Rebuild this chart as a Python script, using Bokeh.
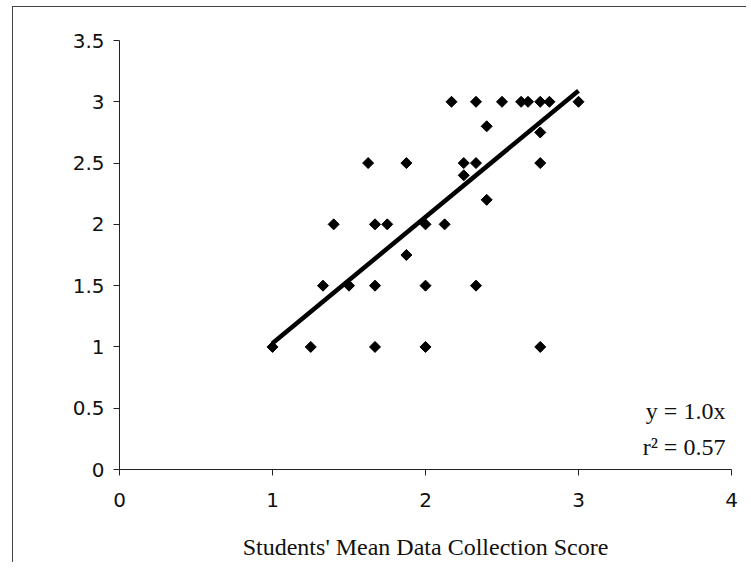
from bokeh.plotting import figure
from bokeh.models import Range1d, FixedTicker, Label
from bokeh.embed import file_html
from bokeh.resources import INLINE
import math

# Data
x_vals = [1.0, 1.25, 1.67, 2.0, 2.75,
          1.33, 1.5, 1.67, 2.0, 2.33,
          1.875,
          1.4, 1.67, 1.75, 2.0, 2.125,
          2.4,
          2.25,
          1.625, 1.875, 2.25, 2.33, 2.75,
          2.75,
          2.4,
          2.17, 2.33, 2.5, 2.625, 2.67, 2.75, 2.81, 3.0]
y_vals = [1.0, 1.0, 1.0, 1.0, 1.0,
          1.5, 1.5, 1.5, 1.5, 1.5,
          1.75,
          2.0, 2.0, 2.0, 2.0, 2.0,
          2.2,
          2.4,
          2.5, 2.5, 2.5, 2.5, 2.5,
          2.75,
          2.8,
          3.0, 3.0, 3.0, 3.0, 3.0, 3.0, 3.0, 3.0]

trend_x = [1.0, 3.0]
trend_y = [1.03, 3.09]

x_ticks = [0, 1, 2, 3, 4]
x_tick_labels = ["0", "1", "2", "3", "4"]
y_ticks = [0, 0.5, 1, 1.5, 2, 2.5, 3, 3.5]
y_tick_labels = ["0", "0.5", "1", "1.5", "2", "2.5", "3", "3.5"]

x_title = "Students' Mean Data Collection Score"
eq_text = "y = 1.0x"
r2_text = "r\u00b2 = 0.57"

p = figure(width=734, height=556, output_backend="svg", toolbar_location=None,
           x_range=Range1d(0, 4), y_range=Range1d(0, 3.5),
           min_border_left=106, min_border_right=16,
           min_border_top=33, min_border_bottom=94)
p.outline_line_color = None
p.grid.visible = False
p.background_fill_color = "white"
p.border_fill_color = "white"
p.styles = {"border-left": "1px solid #444", "border-top": "1px solid #444",
            "margin-left": "12px", "margin-top": "6px"}

for ax in (p.xaxis[0], p.yaxis[0]):
    ax.axis_line_color = "#222"
    ax.axis_line_width = 1
    ax.major_tick_line_color = "#222"
    ax.major_tick_out = 6
    ax.major_tick_in = 0
    ax.minor_tick_line_color = None
    ax.major_label_text_font = "DejaVu Sans"
    ax.major_label_text_font_size = "20px"
    ax.major_label_text_color = "#111"

p.xaxis.ticker = FixedTicker(ticks=x_ticks)
p.xaxis.major_label_overrides = {t: l for t, l in zip(x_ticks, x_tick_labels)}
p.yaxis.ticker = FixedTicker(ticks=y_ticks)
p.yaxis.major_label_overrides = {t: l for t, l in zip(y_ticks, y_tick_labels)}
p.yaxis.major_label_standoff = 9
p.xaxis.major_label_standoff = 17

p.xaxis.axis_label = x_title
p.xaxis.axis_label_text_font = "Liberation Serif"
p.xaxis.axis_label_text_font_size = "24px"
p.xaxis.axis_label_text_font_style = "normal"
p.xaxis.axis_label_text_color = "#111"
p.xaxis.axis_label_standoff = 24

p.line(trend_x, trend_y, line_width=4.5, line_color="black")
p.scatter(x_vals, y_vals, marker="square", size=7.8, angle=math.pi / 4,
          fill_color="black", line_color="black")

p.add_layout(Label(x=3.96, y=0.48, text=eq_text, text_align="right",
                   text_baseline="middle", text_font="Liberation Serif",
                   text_font_size="24px", text_color="#111"))
p.add_layout(Label(x=3.96, y=0.18, text=r2_text, text_align="right",
                   text_baseline="middle", text_font="Liberation Serif",
                   text_font_size="24px", text_color="#111"))

open("out.html", "w").write(file_html(p, INLINE))
